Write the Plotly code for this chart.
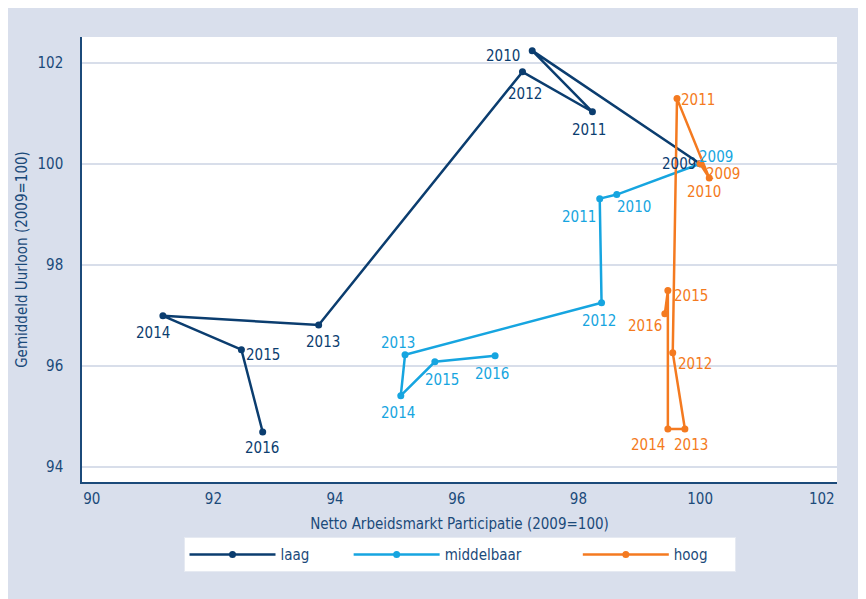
import plotly.graph_objects as go

years = ["2009", "2010", "2011", "2012", "2013", "2014", "2015", "2016"]

laag_x = [100.0, 97.24, 98.23, 97.08, 93.73, 91.17, 92.46, 92.81]
laag_y = [100.0, 102.24, 101.03, 101.82, 96.81, 96.99, 96.32, 94.69]

midd_x = [100.0, 98.63, 98.35, 98.38, 95.15, 95.08, 95.64, 96.63]
midd_y = [100.0, 99.39, 99.31, 97.25, 96.22, 95.41, 96.08, 96.20]

hoog_x = [100.0, 100.15, 99.62, 99.55, 99.75, 99.47, 99.47, 99.42]
hoog_y = [100.0, 99.72, 101.29, 96.26, 94.75, 94.75, 97.49, 97.03]

x_ticks = [90, 92, 94, 96, 98, 100, 102]
y_ticks = [94, 96, 98, 100, 102]

series_names = ["laag", "middelbaar", "hoog"]
colors = ["#0b3d6f", "#16a5e0", "#f47a20"]

# label offsets (pixels, right / down) of each year label relative to its point
laag_off = [(-21, 0), (-29, 5), (-3, 18), (3, 22), (4, 17), (-10, 17), (22, 5), (-1, 16)]
midd_off = [(16, -7), (17, 12), (-21, 18), (-3, 18), (-7, -12), (-3, 17), (7, 18), (-3, 18)]
hoog_off = [(23, 10), (-5, 14), (21, 1), (22, 11), (6, 16), (-20, 16), (23, 5), (-20, 12)]

legend_pad = [8, 12, 5]

FONT = "DejaVu Sans Condensed, Liberation Sans Narrow, Roboto, sans-serif"
NAVY = "#1b4a7a"

fig = go.Figure()
annotations = []
for name, pad, xs, ys, col, offs in [
    (series_names[0], legend_pad[0], laag_x, laag_y, colors[0], laag_off),
    (series_names[1], legend_pad[1], midd_x, midd_y, colors[1], midd_off),
    (series_names[2], legend_pad[2], hoog_x, hoog_y, colors[2], hoog_off),
]:
    fig.add_trace(go.Scatter(
        x=xs, y=ys, mode="lines+markers", name=name + "\u00a0" * pad,
        line=dict(color=col, width=2.5),
        marker=dict(color=col, size=7),
        cliponaxis=False,
    ))
    for xv, yv, yr, (dx, dy) in zip(xs, ys, years, offs):
        annotations.append(dict(
            x=xv, y=yv, xref="x", yref="y", text=yr, showarrow=False,
            xanchor="center", yanchor="middle", xshift=dx, yshift=-dy,
            font=dict(family=FONT, size=15, color=col),
        ))

fig.update_layout(
    width=866, height=599,
    paper_bgcolor="#d9dfec",
    plot_bgcolor="#ffffff",
    margin=dict(l=74, r=37, t=29, b=125, autoexpand=False),
    font=dict(family=FONT, size=15, color=NAVY),
    showlegend=True,
    annotations=annotations,
    legend=dict(
        orientation="h", x=0.5, xanchor="center", y=-0.124, yanchor="top",
        bgcolor="#ffffff", bordercolor="#e6eaf2", borderwidth=1,
        font=dict(family=FONT, size=15, color=NAVY),
        itemwidth=86,
    ),
    xaxis=dict(
        range=[89.84, 102.25], tickvals=x_ticks, showgrid=False, zeroline=False,
        showline=True, linecolor=NAVY, linewidth=1.5,
        ticks="outside", ticklen=2, tickcolor="rgba(0,0,0,0)",
        title=dict(text="Netto Arbeidsmarkt Participatie (2009=100)",
                   font=dict(size=15, color=NAVY), standoff=12),
    ),
    yaxis=dict(
        range=[93.7, 102.51], tickvals=y_ticks, showgrid=True,
        gridcolor="#d8deea", gridwidth=2, zeroline=False,
        showline=True, linecolor=NAVY, linewidth=1.5,
        ticks="outside", ticklen=14, tickcolor="rgba(0,0,0,0)",
        title=dict(text="Gemiddeld Uurloon (2009=100)",
                   font=dict(size=15, color=NAVY), standoff=6),
    ),
)

fig.write_html("out.html")
